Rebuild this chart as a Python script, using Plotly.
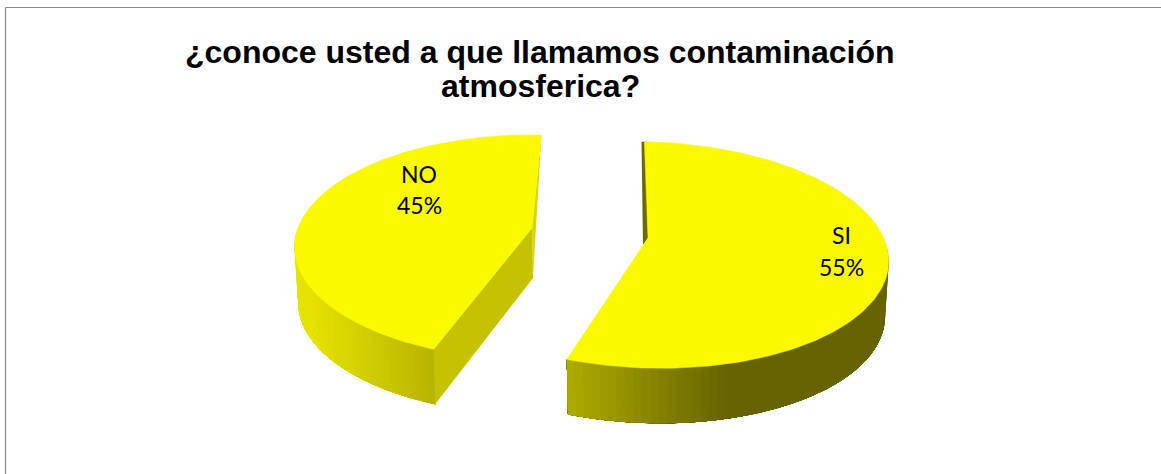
import math
import plotly.graph_objects as go

# ---- data ----
categories = ["SI", "NO"]
shares = [55, 45]
title_lines = ["¿conoce usted a que llamamos contaminación", "atmosferica?"]

# ---- 3D projection settings for each exploded slice (pixel scale of the axes) ----
W, H = 1161, 474
DEPTH = 55
WALL_SCALE = 0.985
GEOM = {
    "SI": dict(cx=648, cy=238, a=238, b=110.6, k=0.15, s=6, start=-1.0),
    "NO": dict(cx=532, cy=228, a=234, b=109, k=0.17, s=0, start=None),
}
TOP = "#faf900"


def project(g, deg):
    t = math.radians(deg)
    X, Y = math.sin(t), math.cos(t)
    w = 1 + g["k"] * Y
    return (g["cx"] + g["a"] * X / w,
            g["cy"] - g["b"] * Y / w + g["s"] * X / w)


def lower(g, p):
    return (g["cx"] + (p[0] - g["cx"]) * WALL_SCALE, p[1] + DEPTH)


def mix(c1, c2, f):
    f = max(0, min(1, f))
    return "rgb({},{},{})".format(*[round(a + (b - a) * f) for a, b in zip(c1, c2)])


def poly(fig, pts, color, lw=0.0):
    fig.add_trace(go.Scatter(
        x=[p[0] for p in pts] + [pts[0][0]],
        y=[p[1] for p in pts] + [pts[0][1]],
        mode="lines", fill="toself", fillcolor=color,
        line=dict(color=color, width=lw),
        hoverinfo="skip", showlegend=False))


def wall(fig, g, a0, a1, color_at, n=60):
    # every band runs on to the far end of the wall, so later bands overpaint it and no seams show
    for i in range(n):
        u0 = a0 + (a1 - a0) * i / n
        arc = [project(g, u0 + (a1 - u0) * j / 40) for j in range(41)]
        poly(fig, arc + [lower(g, p) for p in reversed(arc)], color_at(project(g, u0)[0]))


fig = go.Figure()

# SI slice
si, no = GEOM["SI"], GEOM["NO"]
si_span = 360 * shares[0] / sum(shares)
no_span = 360 * shares[1] / sum(shares)
si_a0 = si["start"]
si_a1 = si_a0 + si_span
no_a1 = 362.7
no_a0 = no_a1 - no_span

dark, mid = (0x66, 0x63, 0x00), (0xb0, 0xad, 0x00)
wall(fig, si, 92, si_a1, lambda x: mix(mid, dark, (x - 567) / 165))
p_back = project(si, si_a0 - 0.8)
poly(fig, [p_back, project(si, si_a0 + 0.5), (si["cx"], si["cy"]), (si["cx"] - 5, si["cy"] + 7)], "#6b6800")
poly(fig, [(si["cx"], si["cy"])] +
     [project(si, si_a0 + si_span * i / 200) for i in range(201)], TOP, 0.5)

# NO slice
light, shade = (0xe6, 0xe3, 0x00), (0xb6, 0xb3, 0x00)
wall(fig, no, 274, no_a0, lambda x: mix(shade, light, (433 - x) / 125))
p_end = project(no, no_a1)
p_start = project(no, no_a0)
apex = (no["cx"], no["cy"])
apex_low = (no["cx"] + 1, no["cy"] + 50)
poly(fig, [p_end, apex, apex_low], "#dad700")
poly(fig, [apex, p_start, lower(no, p_start), apex_low], "#c5c300")
poly(fig, [apex] + [project(no, no_a0 + no_span * i / 200) for i in range(201)], TOP, 0.5)

# slice labels, one annotation a line to hold the line spacing
label_pos = {"SI": (841, 235, 267), "NO": (419, 174, 205)}
for c, v in zip(categories, shares):
    x, y_name, y_value = label_pos[c]
    for txt, y in ((c, y_name), (f"{v}%", y_value)):
        fig.add_annotation(x=x, y=y, xref="x", yref="y", text=txt, showarrow=False,
                           font=dict(family="Lato, Carlito, sans-serif", size=23, color="#000000"))

# title, one annotation a line to hold the tight line spacing
for line, y in zip(title_lines, (52, 86)):
    fig.add_annotation(x=540, y=y, xref="x", yref="y", text=f"<b>{line}</b>",
                       showarrow=False, align="center",
                       font=dict(family="Liberation Sans, Arial, sans-serif", size=32, color="#000000"))

frame = "#8f8a8a"
fig.add_shape(type="line", x0=5.5, x1=5.5, y0=7.5, y1=H, line=dict(color=frame, width=1.2))
fig.add_shape(type="line", x0=5.5, x1=W, y0=7.5, y1=7.5, line=dict(color=frame, width=1.2))

fig.update_layout(
    width=W, height=H, margin=dict(l=0, r=0, t=0, b=0),
    paper_bgcolor="white", plot_bgcolor="white", showlegend=False,
    xaxis=dict(range=[0, W], visible=False, fixedrange=True),
    yaxis=dict(range=[H, 0], visible=False, fixedrange=True),
)
fig.write_html("out.html", config={"displayModeBar": False},
               post_script="document.body.style.margin='0';document.documentElement.style.overflow='hidden';")
